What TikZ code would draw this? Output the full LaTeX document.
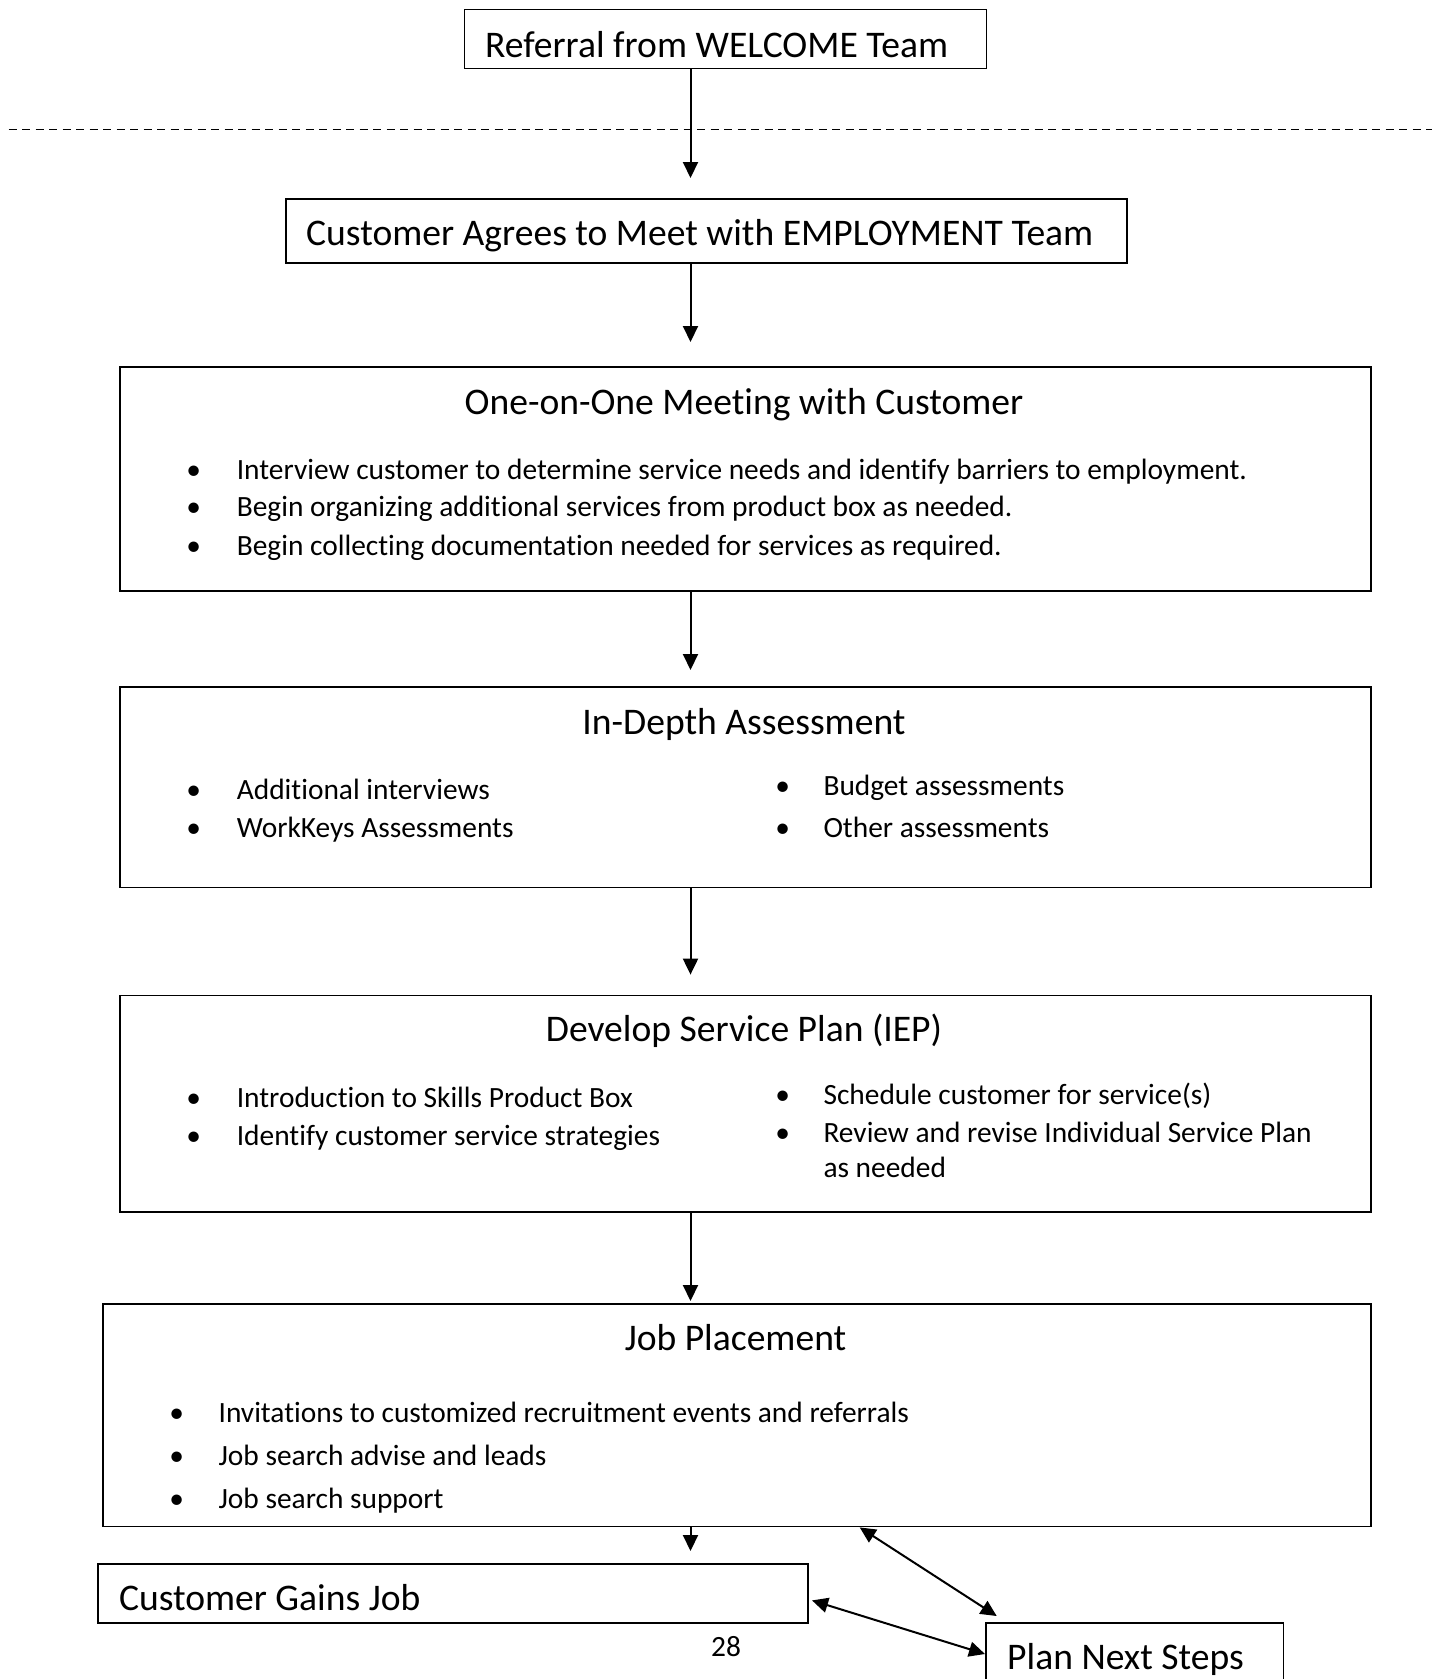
\documentclass[tikz,border=0pt]{standalone}
\usepackage{fontspec}
\setmainfont{Carlito}[Ligatures=CommonOff]
\usetikzlibrary{arrows.meta}

\tikzset{
  box/.style={draw, line width=1.8pt, anchor=north west, inner sep=0pt},
  head/.style={font=\fontsize{37.6}{44}\selectfont, inner sep=0pt, text height=26pt, text depth=8pt, yshift=-4pt},
  item/.style={font=\fontsize{29.4}{35}\selectfont, inner sep=0pt, anchor=west, text height=20pt, text depth=6pt, yshift=-3.5pt},
  dot/.style={item, anchor=center},
  arr/.style={-{Triangle[length=16pt,width=15pt]}, line width=2pt},
  dbl/.style={{Triangle[length=16pt,width=15pt]}-{Triangle[length=16pt,width=15pt]}, line width=2pt},
}

\begin{document}
\begin{tikzpicture}[x=1pt,y=-1pt]
	\useasboundingbox (0,0) rectangle (1441,1679);

	%boites
	\node[box, minimum width=522pt, minimum height=59pt] (ref) at (463.6,8.6) {};
	\node[box, minimum width=841.5pt, minimum height=64.3pt] (agree) at (284.8,198) {};
	\node[box, minimum width=1251.6pt, minimum height=224pt] (meet) at (118.8,366) {};
	\node[box, minimum width=1251.6pt, minimum height=200.5pt] (assess) at (118.8,686) {};
	\node[box, minimum width=1251.6pt, minimum height=216.3pt] (plan) at (118.8,994.6) {};
	\node[box, minimum width=1268.7pt, minimum height=222.6pt] (job) at (101.7,1303) {};
	\node[box, minimum width=709.8pt, minimum height=59pt] (gains) at (97.4,1563) {};
	\node[box, minimum width=297.6pt, minimum height=100pt] (next) at (985,1622) {};

	%ligne pointillee
	\draw [line width=1.4pt, dash pattern=on 8pt off 5.5pt] (8.6,129.5) -- (1432,129.5);

	%titres
	\node[head, anchor=west] (refl) at (485,44) {Referral from WELCOME Team};
	\node[head, anchor=west] (agreel) at (306,232.3) {Customer Agrees to Meet with EMPLOYMENT Team};
	\node[head] (meetl) at (744,401.5) {One-on-One Meeting with Customer};
	\node[head] (assessl) at (744,721.6) {In-Depth Assessment};
	\node[head] (planl) at (744,1028.8) {Develop Service Plan (IEP)};
	\node[head] (jobl) at (735.5,1337) {Job Placement};
	\node[head, anchor=west] (gainsl) at (118.8,1597) {Customer Gains Job};
	\node[head, anchor=west] (nextl) at (1007,1656) {Plan Next Steps};

	%one-on-one
	\node[dot] at (193.8,469) {\textbullet};
	\node[item] (m1) at (236.6,469) {Interview customer to determine service needs and identify barriers to employment.};
	\node[dot] at (193.8,506.4) {\textbullet};
	\node[item] (m2) at (236.6,506.4) {Begin organizing additional services from product box as needed.};
	\node[dot] at (193.8,545) {\textbullet};
	\node[item] (m3) at (236.6,545) {Begin collecting documentation needed for services as required.};

	%assessment
	\node[dot] at (193.8,789) {\textbullet};
	\node[item] (a1) at (236.6,789) {Additional interviews};
	\node[dot] at (193.8,826.5) {\textbullet};
	\node[item] (a2) at (236.6,826.5) {WorkKeys Assessments};
	\node[dot] at (782.6,784.7) {\textbullet};
	\node[item] (a3) at (823.3,784.7) {Budget assessments};
	\node[dot] at (782.6,826.5) {\textbullet};
	\node[item] (a4) at (823.3,826.5) {Other assessments};

	%service plan
	\node[dot] at (193.8,1097.4) {\textbullet};
	\node[item] (p1) at (236.6,1097.4) {Introduction to Skills Product Box};
	\node[dot] at (193.8,1134.8) {\textbullet};
	\node[item] (p2) at (236.6,1134.8) {Identify customer service strategies};
	\node[dot] at (782.6,1094) {\textbullet};
	\node[item] (p3) at (823.3,1094) {Schedule customer for service(s)};
	\node[dot] at (782.6,1131.6) {\textbullet};
	\node[item] (p4) at (823.3,1131.6) {Review and revise Individual Service Plan};
	\node[item] (p5) at (823.3,1167) {as needed};

	%job placement
	\node[dot] at (176.6,1412) {\textbullet};
	\node[item] (j1) at (218.4,1412) {Invitations to customized recruitment events and referrals};
	\node[dot] at (176.6,1455) {\textbullet};
	\node[item] (j2) at (218.4,1455) {Job search advise and leads};
	\node[dot] at (176.6,1497.8) {\textbullet};
	\node[item] (j3) at (218.4,1497.8) {Job search support};

	\node[item, anchor=center] (pg) at (726,1645.5) {28};

	%fleches
	\coordinate (ax) at (690.5,0);
	\draw [arr, shorten >=20pt] (ref.south -| ax) -- (agree.north -| ax);
	\draw [arr, shorten >=24pt] (agree.south -| ax) -- (meet.north -| ax);
	\draw [arr, shorten >=16pt] (meet.south -| ax) -- (assess.north -| ax);
	\draw [arr, shorten >=20pt] (assess.south -| ax) -- (plan.north -| ax);
	\draw [arr, shorten >=2pt] (plan.south -| ax) -- (job.north -| ax);
	\draw [arr, shorten >=12pt] (job.south -| ax) -- (gains.north -| ax);
	\draw [dbl] ([xshift=758pt]job.south west) -- ([xshift=11.7pt,yshift=6pt]next.north west);
	\draw [dbl] ([xshift=3pt,yshift=-7pt]gains.east) -- ([yshift=-32pt]next.north west);
\end{tikzpicture}
\end{document}
